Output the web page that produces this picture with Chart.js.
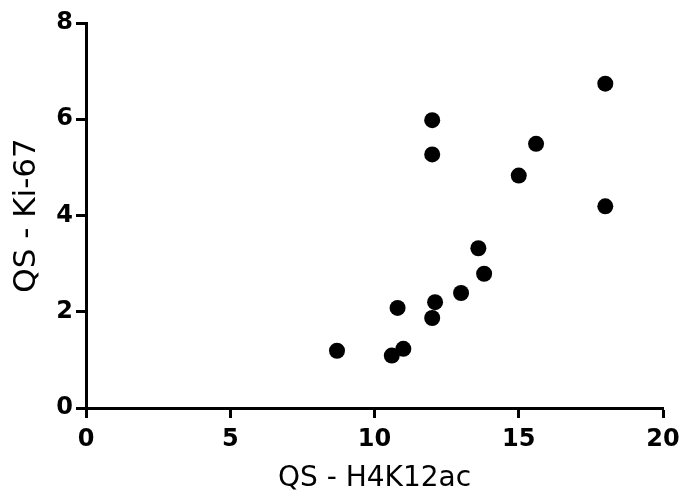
<!DOCTYPE html>
<html>
<head>
<meta charset="utf-8">
<script src="https://cdn.jsdelivr.net/npm/chart.js@4"></script>
<style>
  html, body { margin: 0; padding: 0; background: #ffffff; }
  #chart { display: block; }
</style>
</head>
<body>
<canvas id="chart" width="681" height="497"></canvas>
<script>
const h4k12ac = [8.7, 10.6, 11.0, 10.8, 12.0, 12.0, 12.0, 12.1, 13.0, 13.6, 13.8, 15.0, 15.6, 18.0, 18.0];
const ki67 = [1.19, 1.09, 1.23, 2.08, 5.98, 5.27, 1.87, 2.2, 2.39, 3.32, 2.79, 4.83, 5.49, 4.19, 6.74];
const xTicks = [0, 5, 10, 15, 20];
const yTicks = [0, 2, 4, 6, 8];

const points = h4k12ac.map((x, i) => ({ x: x, y: ki67[i] }));

const tickFont = { family: "DejaVu Sans", size: 24, weight: "bold" };

const axisLook = {
  border: { display: true, color: "#000000", width: 3 },
  grid: {
    drawOnChartArea: false,
    drawTicks: true,
    tickLength: 10,
    tickWidth: 3,
    tickColor: "#000000",
  },
};

new Chart(document.getElementById("chart"), {
  type: "scatter",
  data: {
    datasets: [
      {
        data: points,
        backgroundColor: "#000000",
        borderWidth: 0,
        pointRadius: 8,
        pointHoverRadius: 8,
      },
    ],
  },
  options: {
    responsive: false,
    animation: false,
    layout: { padding: { top: 23, right: 18, left: 0, bottom: 0 } },
    plugins: {
      legend: { display: false },
      tooltip: { enabled: false },
    },
    scales: {
      x: {
        ...axisLook,
        type: "linear",
        min: 0,
        max: 20,
        afterBuildTicks: (scale) => { scale.ticks = xTicks.map(v => ({ value: v })); },
        afterFit: (scale) => {
          scale.height = 89;
          // keep the plot edges fixed, the end labels may hang over
          scale.paddingLeft = 0;
          scale.paddingRight = 0;
        },
        ticks: { color: "#000000", font: tickFont, padding: 7 },
        title: {
          display: true,
          text: "QS - H4K12ac",
          color: "#000000",
          font: { family: "DejaVu Sans", size: 28 },
          padding: { top: 0, bottom: 1 },
        },
      },
      y: {
        ...axisLook,
        type: "linear",
        min: 0,
        max: 8,
        afterBuildTicks: (scale) => { scale.ticks = yTicks.map(v => ({ value: v })); },
        afterFit: (scale) => {
          scale.width = 86;
          scale.paddingTop = 0;
          scale.paddingBottom = 0;
        },
        ticks: { color: "#000000", font: tickFont, padding: 3 },
        title: {
          display: true,
          text: "QS - Ki-67",
          color: "#000000",
          font: { family: "DejaVu Sans", size: 31 },
          padding: { top: 8, bottom: 0 },
        },
      },
    },
  },
});
</script>
</body>
</html>
